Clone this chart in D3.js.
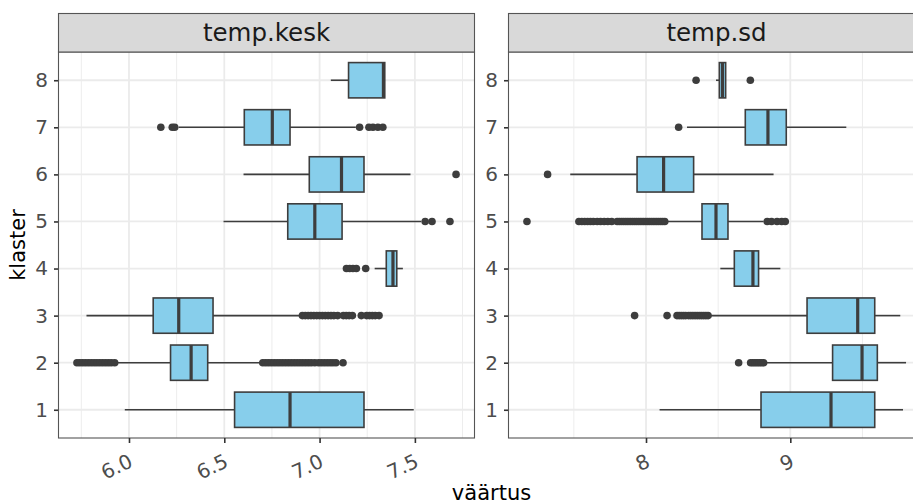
<!DOCTYPE html>
<html>
<head>
<meta charset="utf-8">
<script src="https://cdn.jsdelivr.net/npm/d3@7"></script>
<style>
  body { margin: 0; background: #fff; }
  svg { display: block; font-family: "DejaVu Sans", sans-serif; }
</style>
</head>
<body>
<div id="viz"></div>
<script>
// data

var clusters = [1, 2, 3, 4, 5, 6, 7, 8];
var facets = ["temp.kesk", "temp.sd"];

// temp.kesk, one value per cluster 1..8
var keskLow  = [5.978, 5.940, 5.777, 7.289, 6.496, 6.601, 6.261, 7.059];
var keskQ1   = [6.554, 6.218, 6.127, 7.350, 6.833, 6.946, 6.605, 7.152];
var keskMed  = [6.845, 6.326, 6.261, 7.385, 6.975, 7.115, 6.752, 7.335];
var keskQ3   = [7.233, 6.413, 6.441, 7.405, 7.118, 7.233, 6.845, 7.342];
var keskHigh = [7.494, 6.697, 6.906, 7.437, 7.533, 7.477, 7.190, 7.342];
var keskOut = [
  [],
  [5.727, 5.742, 5.757, 5.772, 5.787, 5.802, 5.817, 5.832, 5.847, 5.862, 5.877, 5.892, 5.907, 5.925,
   6.702, 6.717, 6.732, 6.747, 6.762, 6.777, 6.792, 6.807, 6.822, 6.837, 6.852, 6.867, 6.882, 6.897,
   6.912, 6.927, 6.942, 6.957, 6.975, 6.995, 7.010, 7.025, 7.040, 7.055, 7.070, 7.086, 7.123],
  [6.910, 6.925, 6.940, 6.955, 6.970, 6.985, 7.000, 7.015, 7.030, 7.045, 7.060, 7.075, 7.095,
   7.125, 7.140, 7.155, 7.172, 7.219, 7.247, 7.262, 7.277, 7.292, 7.312],
  [7.141, 7.158, 7.175, 7.193, 7.242],
  [7.554, 7.590, 7.684],
  [7.716],
  [6.167, 6.227, 6.240, 7.210, 7.259, 7.280, 7.306, 7.332],
  []
];

// temp.sd, one value per cluster 1..8
var sdLow  = [8.094, 8.827, 8.434, 8.515, 8.134, 7.475, 8.284, 8.485];
var sdQ1   = [8.797, 9.293, 9.116, 8.612, 8.388, 7.938, 8.688, 8.508];
var sdMed  = [9.282, 9.497, 9.467, 8.741, 8.485, 8.122, 8.845, 8.530];
var sdQ3   = [9.585, 9.603, 9.585, 8.780, 8.568, 8.330, 8.972, 8.552];
var sdHigh = [9.781, 9.802, 9.762, 8.931, 8.815, 8.884, 9.388, 8.552];
var sdOut = [
  [],
  [8.642, 8.725, 8.740, 8.755, 8.770, 8.785, 8.800, 8.815],
  [7.921, 8.146, 8.215, 8.230, 8.245, 8.260, 8.275, 8.295, 8.310, 8.325, 8.340, 8.355,
   8.370, 8.385, 8.400, 8.415, 8.430],
  [],
  [7.175, 7.535, 7.555, 7.575, 7.595, 7.615, 7.635, 7.662, 7.685, 7.710, 7.735, 7.762,
   7.800, 7.815, 7.830, 7.845, 7.860, 7.875, 7.890, 7.905, 7.920, 7.935, 7.950, 7.965,
   7.980, 7.995, 8.010, 8.025, 8.040, 8.055, 8.070, 8.085, 8.100, 8.115, 8.130,
   8.840, 8.870, 8.908, 8.940, 8.965],
  [7.318],
  [8.226],
  [8.347, 8.723]
];

// tick labels
var keskTicks = [6.0, 6.5, 7.0, 7.5];
var keskMinor = [5.75, 6.25, 6.75, 7.25, 7.75];
var sdTicks = [8, 9];
var sdMinor = [7.5, 8.5, 9.5];

// layout
var width = 913, height = 504;
var panelTop = 52, panelBottom = 438, stripTop = 13;
var panelX = [[58, 475], [508, 925]];

var series = [
  {low: keskLow, q1: keskQ1, med: keskMed, q3: keskQ3, high: keskHigh, out: keskOut,
   ticks: keskTicks, minor: keskMinor, fmt: d3.format(".1f")},
  {low: sdLow, q1: sdQ1, med: sdMed, q3: sdQ3, high: sdHigh, out: sdOut,
   ticks: sdTicks, minor: sdMinor, fmt: d3.format("d")}
];

var svg = d3.select("#viz")
  .append("svg")
    .attr("width", width)
    .attr("height", height);

// discrete y, same for both panels
var y = d3.scalePoint()
  .domain(clusters)
  .range([panelBottom, panelTop])
  .padding(0.6);
var boxH = y.step() * 0.75;

facets.forEach(function(name, i) {
  var s = series[i];
  var x0 = panelX[i][0], x1 = panelX[i][1];

  // x range from data with 5% expansion, like ggplot
  var all = [];
  clusters.forEach(function(c, j) {
    all.push(s.low[j], s.high[j]);
    all = all.concat(s.out[j]);
  });
  var lo = d3.min(all), hi = d3.max(all), pad = (hi - lo) * 0.05;
  var x = d3.scaleLinear().domain([lo - pad, hi + pad]).range([x0, x1]);

  var g = svg.append("g");

  // grid
  g.selectAll(".minor").data(s.minor).enter().append("line")
    .attr("x1", function(d) { return x(d); }).attr("x2", function(d) { return x(d); })
    .attr("y1", panelTop).attr("y2", panelBottom)
    .attr("stroke", "#ebebeb").attr("stroke-width", 0.9);
  g.selectAll(".major").data(s.ticks).enter().append("line")
    .attr("x1", function(d) { return x(d); }).attr("x2", function(d) { return x(d); })
    .attr("y1", panelTop).attr("y2", panelBottom)
    .attr("stroke", "#ebebeb").attr("stroke-width", 1.8);
  g.selectAll(".hmajor").data(clusters).enter().append("line")
    .attr("x1", x0).attr("x2", x1)
    .attr("y1", function(d) { return y(d); }).attr("y2", function(d) { return y(d); })
    .attr("stroke", "#ebebeb").attr("stroke-width", 1.8);

  // boxes
  var ink = "#3d3d3d";
  var boxes = g.selectAll(".box").data(clusters).enter().append("g")
    .attr("transform", function(d) { return "translate(0," + y(d) + ")"; });

  boxes.each(function(c, j) {
    var b = d3.select(this);
    b.selectAll("circle").data(s.out[j]).enter().append("circle")
      .attr("cx", function(d) { return x(d); })
      .attr("cy", 0)
      .attr("r", 3.8)
      .attr("fill", ink);
    b.append("line")
      .attr("x1", x(s.low[j])).attr("x2", x(s.q1[j]))
      .attr("y1", 0).attr("y2", 0)
      .attr("stroke", ink).attr("stroke-width", 1.6);
    b.append("line")
      .attr("x1", x(s.q3[j])).attr("x2", x(s.high[j]))
      .attr("y1", 0).attr("y2", 0)
      .attr("stroke", ink).attr("stroke-width", 1.6);
    b.append("rect")
      .attr("x", x(s.q1[j]))
      .attr("y", -boxH / 2)
      .attr("width", x(s.q3[j]) - x(s.q1[j]))
      .attr("height", boxH)
      .attr("fill", "#87ceeb")
      .attr("stroke", ink).attr("stroke-width", 1.6);
    b.append("line")
      .attr("x1", x(s.med[j])).attr("x2", x(s.med[j]))
      .attr("y1", -boxH / 2).attr("y2", boxH / 2)
      .attr("stroke", ink).attr("stroke-width", 3.2);
  });

  // panel border
  g.append("rect")
    .attr("x", x0 + 0.5).attr("y", panelTop)
    .attr("width", x1 - x0 - 1).attr("height", panelBottom - panelTop)
    .attr("fill", "none").attr("stroke", "#555").attr("stroke-width", 1.1);

  // strip
  g.append("rect")
    .attr("x", x0 + 0.5).attr("y", stripTop + 0.5)
    .attr("width", x1 - x0 - 1).attr("height", panelTop - stripTop - 0.5)
    .attr("fill", "#d9d9d9").attr("stroke", "#555").attr("stroke-width", 1.1);
  g.append("text")
    .attr("x", (x0 + x1) / 2).attr("y", 41)
    .attr("text-anchor", "middle")
    .attr("font-size", 24.5)
    .attr("fill", "#1a1a1a")
    .text(name);

  // x axis
  var ax = g.append("g")
    .attr("transform", "translate(0," + panelBottom + ")")
    .call(d3.axisBottom(x).tickValues(s.ticks).tickSize(5).tickFormat(s.fmt));
  ax.select(".domain").remove();
  ax.selectAll("line").attr("stroke", "#333").attr("stroke-width", 1.6);
  ax.selectAll("text")
    .attr("x", null).attr("y", null).attr("dy", "0.73em")
    .attr("transform", "translate(-1.5,15) rotate(-25)")
    .attr("text-anchor", "end")
    .attr("font-size", 20)
    .attr("font-family", "DejaVu Sans")
    .attr("fill", "#4d4d4d");

  // y axis
  var ay = g.append("g")
    .attr("transform", "translate(" + x0 + ",0)")
    .call(d3.axisLeft(y).tickSize(4).tickPadding(6));
  ay.select(".domain").remove();
  ay.selectAll("line").attr("stroke", "#333").attr("stroke-width", 1.6);
  ay.selectAll("text")
    .attr("font-size", 20)
    .attr("font-family", "DejaVu Sans")
    .attr("fill", "#4d4d4d");
});

// axis titles
svg.append("text")
  .attr("x", 491.5).attr("y", 500)
  .attr("text-anchor", "middle")
  .attr("font-size", 21)
  .text("väärtus");
svg.append("text")
  .attr("transform", "translate(25," + (panelTop + panelBottom) / 2 + ") rotate(-90)")
  .attr("text-anchor", "middle")
  .attr("font-size", 21)
  .text("klaster");
</script>
</body>
</html>
